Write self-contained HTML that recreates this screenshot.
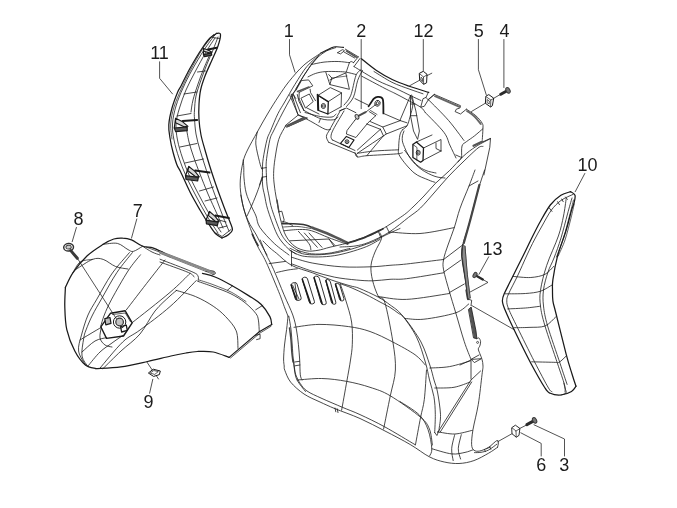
<!DOCTYPE html><html><head><meta charset="utf-8"><title>Parts diagram</title><style>html,body{margin:0;padding:0;background:#fff}svg{display:block;will-change:transform}text{font-family:"Liberation Sans",sans-serif;fill:#1c1c1c}</style></head><body>
<svg width="677" height="508" viewBox="0 0 677 508">
<rect width="677" height="508" fill="#fff"/>
<g fill="none" stroke="#1a1a1a" stroke-width="0.75" stroke-linecap="round" stroke-linejoin="round">
<path d="M289.5 39.5L289.5 54.8L295 72.2"/>
<path d="M361.2 39.5L361.2 108.7"/>
<path d="M423.3 39.5L423.3 70.5"/>
<path d="M478.4 39.5L478.4 69.7L486.2 94.6"/>
<path d="M503.9 39.5L503.9 87.5"/>
<path d="M159.6 61.8L159.6 78.3L172.5 93.9"/>
<path d="M584.8 173.5L575.2 191.7"/>
<path d="M488.7 256.8L479 274.3"/>
<path d="M136.8 219L131.5 238.1"/>
<path d="M76.4 227.5L72.2 241.7"/>
<path d="M149.6 393.2L152.8 379.3"/>
<path d="M541.2 456L541.2 443.4L520.8 432.8"/>
<path d="M564.5 456L564.5 439L534 424.8"/>
<path d="M471.7 305.5L514.5 329.9"/>
<path d="M512 433.7L497.7 441.7"/>
<path d="M519.9 428.4L527 424.8"/>
<path d="M365.6 112.2L376.3 104.2"/>
<path d="M427.3 75.5L431.8 73.2"/>
<path d="M420 80L409.6 85.8"/>
<path d="M493.5 98.4L500.8 94.2"/>
<path d="M485.7 103L471.5 111.5"/>
<path d="M77.5 258.5L118.2 321.6"/>
<path d="M156.7 376.3L158.5 379"/>
<path d="M147 362.2L152.3 370.1"/>
<path d="M482.8 279.5L488 282.4L470.2 292"/>
</g>
<g fill="none" stroke="#1a1a1a" stroke-width="0.8" stroke-linecap="round" stroke-linejoin="round">
<path d="M320.1 53.6C317.4 55.5 309.1 60.5 303.9 65.1C298.7 69.7 293.3 76.2 289.1 81.4C284.9 86.6 282.3 90.7 278.7 96.1C275.1 101.5 271.1 108 267.5 114C263.9 120 260.6 126 257.3 132C254 138 249.9 145 247.5 150C245.1 155 244.2 157 243 162C241.8 167 240.6 174.5 240.3 180C240 185.5 240.2 189.4 241 194.8C241.8 200.2 242.9 206.1 244.8 212.5C246.7 218.9 250 227.4 252.2 233.2C254.4 238.9 255.7 242.2 258 247C260.3 251.8 262.8 254.8 266.2 262.2C269.6 269.6 275.6 284.1 278.7 291.7C281.8 299.3 283.2 303.9 284.8 308C286.4 312.1 287.5 314.8 288 316.2"/>
<path d="M319.4 54.8C317.3 56.8 310.9 61.7 306.8 66.6C302.7 71.5 298.7 78.4 295 84.3C291.3 90.2 287.5 97.1 284.7 102C281.9 106.9 280.4 108.7 278 113.5C275.6 118.3 272.3 126.7 270.5 131C268.7 135.3 268.2 134.9 267 139.5C265.8 144.1 263.9 153.8 263.2 158.7C262.4 163.6 262.6 164.6 262.5 169C262.4 173.4 262.3 180.7 262.6 185C262.9 189.3 263.6 190.9 264.5 195C265.4 199.1 265.8 203.4 267.7 209.5C269.6 215.6 273.4 226.3 275.8 231.7C278.2 237.1 279.8 239.1 282 242C284.2 244.9 286.7 247.4 289 249.4C291.3 251.4 294.8 253.2 296 254"/>
<path d="M318 57C316.4 58.9 311.5 64.3 308.5 68.5C305.5 72.7 302.9 77.2 300 82C297.1 86.8 293.9 92.3 291 97.5C288.1 102.7 285.4 107.4 282.5 113C279.6 118.6 275.6 126.6 273.5 131C271.4 135.4 271 134.9 269.9 139.5C268.8 144.1 267.2 153.8 266.6 158.7C266 163.6 266.1 164.6 266.2 169C266.3 173.4 266.5 180.5 267 185C267.5 189.5 268.2 191.9 269 196C269.8 200.1 270.1 203.6 272 209.5C273.9 215.4 277.9 226.4 280.2 231.7C282.5 236.9 284 238.5 286 241C288 243.5 289.5 244.6 292 246.5C294.5 248.4 299.4 251.4 300.9 252.4"/>
<path d="M261.8 168.3L266.2 167.6"/>
<path d="M261.8 177.3L266.6 176.5"/>
<path d="M257.3 132C257.1 134 255.4 139.1 255.8 144C256.2 148.9 258.5 157.5 259.5 161.7C260.5 165.9 261.4 167.8 261.8 169"/>
<path d="M243.2 160C243.3 161.3 243.7 164.8 243.8 167.8C243.9 170.8 243.6 173.8 244 178C244.4 182.2 244.9 188.3 246.2 193C247.4 197.7 249.9 202.6 251.5 206.4C253.1 210.2 254.6 212.5 256 216C257.4 219.5 256.8 222.7 259.8 227.3C262.9 231.9 269.4 238.9 274.3 243.5C279.2 248.1 286.6 253.1 289 255"/>
<path d="M259.5 185L261.8 178"/>
<path d="M262.7 177C261.7 179.8 258.5 188.8 256.5 194C254.5 199.2 252.3 204.3 250.7 208C249.1 211.7 247.6 214.7 247 216"/>
<path d="M240.8 195C241.2 196.8 242.1 202.5 243 206C243.9 209.5 245 212.9 246.2 216C247.4 219.1 248.4 221.5 250 224.5C251.6 227.5 253.8 230.4 255.8 234C257.8 237.6 260.1 242.5 262 246C263.9 249.5 266.2 253.5 267 255"/>
<path d="M285.4 126.2C284.3 128.4 280.4 134.1 278.7 139.5C277 144.9 275.9 153 275 158.7C274.1 164.4 273.7 169.1 273.6 173.5C273.5 177.9 273.8 180.7 274.3 185C274.8 189.3 275.4 193.1 276.5 199.2C277.6 205.3 279.4 215.3 281 221.4C282.6 227.5 283.7 231.8 286 236C288.3 240.2 291.5 244 295 246.5C298.5 249 303 250.3 306.8 250.9C310.6 251.5 314.1 250.9 318 250.3C321.9 249.7 325 248.4 330 247.2C335 246 345 243.7 348 243"/>
<path d="M285.4 125.5L298 115.2L307.5 118.1L286.9 127Z"/>
<path d="M348 243C350.8 242 359.8 239 365 237C370.2 235 372.7 234.5 379 231C385.3 227.5 397 219.8 402.7 215.8C408.4 211.8 409.4 210.3 413 207C416.6 203.7 420.2 199.9 424 196C427.8 192.1 431.3 187.5 435.5 183.3C439.7 179.1 444.7 175.3 449.3 170.8C453.9 166.3 458.6 160.6 463 156.5C467.4 152.4 471.4 149.5 476 146.5C480.6 143.5 488.1 139.9 490.5 138.6"/>
<path d="M340 247C342.5 246.8 350.2 246.8 355 246C359.8 245.2 363 244.7 368.7 242.4C374.4 240.1 382.8 236.2 389.4 232C396 227.8 403.4 221.3 408.6 217.3C413.8 213.3 416.3 212.1 420.5 208C424.7 203.9 429.4 198.2 434 193C438.6 187.8 443.2 182.2 448 177C452.8 171.8 458 166.8 463 162C468 157.2 474.7 150.6 478 148C481.3 145.4 482.2 146.8 483 146.5"/>
<path d="M378.3 231.3L380.6 237.2"/>
<path d="M386.5 226.9L389.4 232.8"/>
<path d="M288 316.2C287.8 318.4 287.2 324.7 286.6 329.5C286 334.3 285 340.1 284.5 345C284 349.9 283.7 355.5 283.6 359C283.6 362.5 284 364.1 284.2 366C284.4 367.9 283.7 367.6 284.8 370.3C285.9 373 287.5 378.2 290.7 382.2C293.9 386.1 299.1 390.7 304 394C308.9 397.3 314.8 399.6 320 402C325.2 404.4 328.3 405.9 335 408.7C341.7 411.4 351.7 414.8 360 418.5C368.3 422.2 376.6 426.7 385 431C393.4 435.3 402.8 440.2 410.2 444.5C417.6 448.8 423.8 454 429.5 456.9C435.2 459.8 439.4 460.9 444.3 462C449.2 463.1 454.1 463.7 459 463.5C463.9 463.3 469 462.3 473.9 460.6C478.8 458.9 484.7 455.4 488.6 453.2C492.5 451 496 448.3 497.5 447.3"/>
<path d="M260.3 240C261.2 242.3 263.8 249.1 266 254C268.2 258.9 270.6 262.7 273.6 269.5C276.6 276.3 280.8 287.1 284 294.7C287.2 302.3 290.7 309.1 292.8 315C294.9 320.9 295.6 325.1 296.5 330C297.4 334.9 297.9 339.3 298.4 344.3C298.9 349.3 299.4 354.9 299.7 360C300 365.1 299.9 371.5 300.3 374.8C300.7 378.1 301.7 379.1 302 380"/>
<path d="M288.8 316.2C289.2 318.4 290.4 324.7 291 329.5C291.6 334.3 291.8 340.1 292.2 345C292.6 349.9 292.8 355.2 293.2 359C293.6 362.8 294.1 365.4 294.5 368C294.9 370.6 294.8 372.2 295.8 374.8C296.8 377.4 298.4 380.9 300.3 383.6C302.2 386.3 303.4 388.5 307 391C310.6 393.5 316.1 395.8 322 398.5C327.9 401.2 336.1 404.6 342.4 407.3C348.7 410 352.9 411.3 360 414.6C367.1 417.9 375.9 422 385 427C394.1 432 409.8 441.6 414.8 444.5"/>
<path d="M294.7 362L299.6 361.3"/>
<path d="M295.1 365.8L299.9 365"/>
<path d="M293.6 360C293.8 361.7 293.9 366.7 294.5 370C295.1 373.3 295.2 376.4 297 380C298.8 383.6 304.1 389.6 305.5 391.5"/>
<path d="M269.2 263.6L285.5 261.4"/>
<path d="M276.6 272.5C278.5 272.1 284.6 270.6 288 270C291.4 269.4 295.8 269 297.3 268.8"/>
<path d="M263 241C264.2 242.2 267.7 245.9 270 248C272.3 250.1 273 250.4 276.6 253.3C280.2 256.2 285.6 262.1 291.5 265.3C297.4 268.5 305.6 270.3 312.2 272.7C318.8 275.1 324.9 277.7 331.2 279.9C337.5 282.1 345.3 284.4 350 285.8C354.7 287.2 354.5 286.4 359.2 288.3C363.9 290.2 373.2 294.4 378.4 297.2C383.6 300 386.3 302.1 390.2 305C394.1 307.9 397.3 309.5 401.7 314.8C406.1 320.1 412.6 329.1 416.5 337C420.4 344.9 423.1 354.8 425.3 362C427.5 369.2 428.1 374.2 429.5 380C430.9 385.8 432.9 390.9 433.9 396.6C434.9 402.3 435.2 408.3 435.3 414.3C435.4 420.3 434.8 429.5 434.7 432.5"/>
<path d="M340.2 283.7C342.2 284.4 347.7 286.2 352 288C356.3 289.8 361.3 292.2 366 294.5C370.7 296.8 376 299.9 380 302C384 304.1 387 305.6 390 307.4C393 309.2 395.4 311.1 398 313C400.6 314.9 401.6 314.2 405.4 319C409.2 323.8 416.9 334.3 421 342C425.1 349.7 427.6 358.7 429.8 365C432 371.3 432.7 375.5 434 380C435.3 384.5 436.4 386.3 437.5 392C438.6 397.7 440.2 408.1 440.5 414.3C440.8 420.6 439.2 427 439 429.5"/>
<path d="M290 248.3C292.5 249.3 298.7 253.2 304.8 254.2C310.9 255.2 319.5 254.9 326.9 254.2C334.3 253.5 341.6 251.8 349 249.8C356.4 247.8 365.8 244.5 371.2 242.4C376.6 240.3 378.5 238.8 381.6 237.2C384.7 235.6 386.9 234.4 390 233C393.1 231.6 398.3 229.2 400 228.5"/>
<path d="M290 250.5C292.5 251.5 297.4 255.5 304.8 256.4C312.2 257.3 324.5 257.2 334.3 255.7C344.1 254.2 356.3 250.3 363.9 247.6C371.5 244.9 377.3 240.8 380 239.4"/>
<path d="M291.5 251L291.5 266"/>
<path d="M292.5 285L299 299"/>
<path d="M295 283.5L297 299.5"/>
<path d="M379.9 233C380.1 234 382.2 235.7 381.4 238.9C380.6 242.1 376.7 247.6 375 252C373.3 256.4 371.4 260.8 371 265.5C370.6 270.2 371.3 275 372.5 280.2C373.7 285.4 376.4 292.9 378.4 296.5C380.4 300.1 382.3 294.5 384.7 302C387.1 309.5 391 330.1 392.8 341.4C394.6 352.7 395.8 360.9 395.4 370C395 379.1 392.3 386 390.3 395.8C388.3 405.6 384.7 423.5 383.6 429"/>
<path d="M291.5 257.2C294.9 258.2 303.8 261.4 312.2 263C320.6 264.6 332 266.2 341.7 266.8C351.4 267.4 362.4 267.1 370.5 266.8C378.6 266.6 384 265.8 390 265.3C396 264.8 397.6 265 406.5 264C415.4 263 437.4 260.2 443.6 259.5"/>
<path d="M291.5 263.8C294.9 265 305.1 269 312.2 271.2C319.3 273.4 326.9 275.6 334.3 277.1C341.7 278.6 350.1 279.4 356.5 280C362.9 280.6 367.1 280.9 372.7 280.8C378.3 280.7 384.4 279.7 390 279.3C395.6 278.9 397.6 279.8 406.5 278.7C415.4 277.6 437.4 273.8 443.6 272.8"/>
<path d="M378.4 296.5C383.1 297 394.6 299.9 406.5 299.4C418.4 298.9 442.3 294.5 449.5 293.5"/>
<path d="M389.4 232C394.5 232.2 409.2 234.2 420 233.5C430.8 232.8 448.6 228.6 454.3 227.6"/>
<path d="M475 170C474 172.7 471.5 179.6 469 186C466.5 192.4 462.4 201.5 460 208.4C457.6 215.3 456.3 221.5 454.3 227.6C452.3 233.7 449.8 239.7 448 245C446.2 250.3 444.3 255.3 443.6 259.5C442.9 263.6 442.6 264.5 443.6 269.9C444.6 275.3 447.5 285 449.5 292C451.5 299 453 303.7 455.5 312C458 320.3 461.7 333.8 464.3 341.7C466.9 349.6 469.9 356.4 471 359.4"/>
<path d="M443.6 259.5L462 245.5"/>
<path d="M444 272L460.6 260.3"/>
<path d="M449.5 292.5L464.3 284"/>
<path d="M405.4 318.5C408.5 318.6 415.5 320.1 423.9 319.2C432.2 318.3 448 315.4 455.5 312.9C463 310.4 466.5 305.5 468.7 304"/>
<path d="M429.8 368C433.1 367.8 442.6 367.8 449.5 366.6C456.4 365.4 467.4 361.7 471 360.7"/>
<path d="M434.8 388C438 387.9 448.1 388.3 454 387.3C459.9 386.3 467.5 382.9 470.2 382"/>
<path d="M340.2 283.7C341.1 286.4 343.8 293.6 345.7 300C347.6 306.4 350.5 314.6 351.6 322C352.7 329.4 352.5 338 352.3 344.3C352.1 350.6 351.4 353.8 350.5 360C349.6 366.2 348.3 373 346.8 381.4C345.3 389.8 342.5 405.4 341.6 410.2"/>
<path d="M335 408L335.8 411.8"/>
<path d="M337.2 408.8L338 412.6"/>
<path d="M294 327.3C298.2 326.8 309.9 324.5 319 324.4C328.1 324.3 340.1 325.4 348.6 326.6C357.1 327.8 362.6 328.9 370 331.5C377.4 334.1 385.3 338.1 392.8 342C400.3 345.9 409.6 350.9 415 354.7C420.4 358.5 423.6 363.3 425.3 365"/>
<path d="M297.3 380C301.4 379.8 313.4 378.3 321.7 378.5C329.9 378.7 338.8 379.9 346.8 381.4C354.9 382.9 362.8 384.9 370 387.3C377.2 389.7 381.9 390.8 390.3 395.8C398.7 400.8 414.1 411.8 420.6 417.3C427.1 422.8 427.4 424.4 429.4 429C431.4 433.6 431.9 442.3 432.4 445"/>
<path d="M426.5 370C426.1 374.9 425.3 391.6 424.3 399.5C423.3 407.4 422.1 409.7 420.6 417.3C419.1 424.9 416.3 440.4 415.4 445"/>
<path d="M484.6 170C483.9 172.2 482 177.5 480.2 183.3C478.4 189.1 476 197.6 474 205C472 212.4 469.9 221.4 468 228C466.1 234.6 463.8 240 462.8 244.8C461.8 249.6 461.5 250.5 462 256.6C462.5 262.8 464.8 274.6 465.8 281.7C466.8 288.8 467.6 296.4 468 299.4"/>
<path d="M465 246.2C465.4 250.9 466.4 265.7 467.3 274.3C468.2 282.9 469.7 294.1 470.2 298"/>
<path d="M469 186L478 181"/>
<path d="M465.8 290L467.3 298.9L471.7 300.3L471 305.5"/>
<path d="M476.9 338.7C477.2 338.6 478.4 337.5 479 338C479.6 338.5 480.5 340.4 480.6 341.7C480.7 343 480.2 344.8 479.8 346C479.4 347.2 478.3 347.8 478.3 349C478.3 350.2 479.2 351.8 479.8 353.5C480.4 355.2 481.5 357.3 482 359.4C482.5 361.5 483 363.4 483 366C483 368.6 482.8 368.4 482 374.8C481.2 381.2 479.8 395.2 478.3 404.3C476.8 413.4 474.1 422.8 473 429.5C471.9 436.2 471.5 440.9 471.6 444.3C471.8 447.8 472.5 449.1 473.9 450.2C475.3 451.3 477.4 451.5 479.8 451C482.2 450.5 485.8 449 488.6 447.3C491.4 445.6 495.2 441.3 496.8 440.6C498.4 439.9 498.3 441.9 498.4 443C498.5 444.1 497.6 446.6 497.5 447.3"/>
<path d="M471 359.4L479 355"/>
<path d="M460 365L471 360"/>
<path d="M471 361.5L471 379.2"/>
<path d="M480.6 371L471 380L437.7 432.4"/>
<path d="M471.7 382L440 432.4"/>
<path d="M437.7 431.8C440.5 432.2 448.9 434.2 454.7 434C460.5 433.8 469.4 430.9 472.4 430.3"/>
<path d="M431.8 448.7C435.1 449.6 446.2 453.3 451.7 453.9C457.2 454.5 461.4 453.1 465 452.4C468.6 451.7 471.7 450.2 473 449.8"/>
<path d="M454.7 434.7C454.2 437 451.9 444.4 451.7 448.7C451.4 453 452.9 458.6 453.2 460.6"/>
<path d="M461.3 434.7C460.8 437 458.4 444.6 458.3 448.7C458.2 452.8 460.2 457.3 460.6 459"/>
<path d="M400 401.5C403.2 403.7 414.5 410.1 419.2 414.8C423.9 419.5 425.9 423.9 428 429.5C430.1 435.1 431.6 444.3 431.8 448.7C432.1 453.1 429.9 454.8 429.5 456"/>
<path d="M434.7 432.5L436.9 435.5L439 430.5"/>
<path d="M311.6 63.9C312.7 62.8 315.5 59.1 318 57C320.5 54.9 323.4 52.6 326.4 51C329.4 49.4 334.2 48.2 335.8 47.6"/>
<path d="M337.6 52.7L342.3 49.7L344 50.3"/>
<path d="M337.6 52.7L340.5 53.9L344.2 51"/>
<path d="M345.3 49.1L358.3 56.8"/>
<path d="M344 52L354.7 58"/>
<path d="M358.3 56.8L353.5 62.7"/>
<path d="M360 58.5L354 66.6"/>
<path d="M311.6 64.5C313.7 64.1 319.6 62.6 324 62.1C328.4 61.6 334 61.4 338.2 61.5C342.4 61.6 347.5 62.5 349.4 62.7"/>
<path d="M349.4 62.7C349.7 62.5 350.5 61.5 351.2 61.5C351.9 61.5 353.1 62.5 353.5 62.7"/>
<path d="M349.4 62.7C349.1 63.6 348.1 66.5 347.6 68C347.1 69.5 346.6 71 346.4 71.6"/>
<path d="M308 76.9C309.3 76.3 312.8 74.3 315.7 73.4C318.6 72.5 321.4 71.9 325.2 71.6C328.9 71.3 334.7 71.5 338.2 71.6C341.7 71.7 343.4 71.7 346.4 72.2C349.3 72.7 354.3 74.1 355.9 74.5"/>
<path d="M311.6 63.9C311.1 64.7 310.3 66 308.6 68.6C306.9 71.2 303.6 75.9 301.5 79.3C299.4 82.7 296.9 87.4 296 89"/>
<path d="M325.8 72.2L329.9 84.6L349.4 89.3L345.9 73.4"/>
<path d="M328.7 74.5L331.8 78"/>
<path d="M329.9 80L346 72.8"/>
<path d="M331.8 78L329.9 84.6"/>
<path d="M296.2 89.9L301.5 80.5L308.6 79.9L312.8 85.8L299.2 92.3"/>
<path d="M292 94.6L293.2 100.5"/>
<path d="M296.2 89.9L292 94.6"/>
<path d="M299.2 92.3L299 98.5"/>
<path d="M318.1 95.3L330.3 87.6L341.7 92.9L328.3 101.6Z"/>
<path d="M327.9 114L341.1 106.8"/>
<path d="M341.5 93L341.1 106.8"/>
<path d="M297.3 94.5L299 101.6L303.9 110.5"/>
<path d="M310.1 89.2L310.6 92.7L315.5 100.7"/>
<path d="M301.3 98L309.3 94L313.2 101.6L305.7 107.8Z"/>
<path d="M291.1 94L293.3 99.8L297.7 114"/>
<path d="M293.2 94.2L295.8 98.5"/>
<path d="M306.6 107.8L319 114"/>
<path d="M289.7 95L298 114.5"/>
<path d="M293.5 95L300.4 112.7"/>
<path d="M299 98.5L303.9 110.4"/>
<path d="M298 114.5C300.3 115.8 307.5 119.5 312 122C316.5 124.5 322.1 128.1 325.2 129.3C328.3 130.5 329.6 129.3 330.5 129.3"/>
<path d="M303.9 110.4C306.7 111.8 315.6 117 320.5 118.6C325.4 120.2 330.5 120.1 333.4 119.8C336.3 119.5 337.2 117.5 338 117"/>
<path d="M305 112.5C307.6 113.2 316 115.8 320.5 116.5C325 117.2 329.4 117.4 332 117C334.6 116.6 335.3 114.5 336 114"/>
<path d="M320.5 118.6L319 122.5"/>
<path d="M360.6 69.8C359.8 70.8 357.6 71.4 355.9 75.7C354.2 80 352.6 90.9 350.6 95.8C348.6 100.7 345.1 103.5 344 105"/>
<path d="M362.5 70.5C361.7 72.2 359.2 76 357.7 80.4C356.2 84.8 355.4 92.7 353.5 97C351.6 101.3 347.7 104.9 346.5 106.5"/>
<path d="M374 71.5C377 73.3 386 79.3 392 82.3C398 85.3 404.8 87.4 410 89.3C415.2 91.2 420.8 93 423 93.8"/>
<path d="M428.2 92.6L426 97.4L423 98.7L420.7 107.2L424.3 106.3L428.2 100L434.2 94.4"/>
<path d="M354 66.6C357.9 68.9 370.7 76.9 377.5 80.5C384.3 84.1 389.5 85.6 395 88.1C400.5 90.6 406.2 93.5 410.5 95.6C414.8 97.7 419.2 99.7 421 100.5"/>
<path d="M355 98.6L368 105"/>
<path d="M361.7 76.2C365.6 78.2 379.4 85.6 385 88.5C390.6 91.4 391.2 91.5 395 93.4C398.8 95.3 403.2 97.7 407.5 100C411.8 102.3 417.8 105.2 420.7 107.2C423.6 109.2 424.3 111.4 425 112.2"/>
<path d="M383.4 113.4L399.9 120.5L407 122.8"/>
<path d="M369.2 111.6L375.7 115.7"/>
<path d="M410.5 95.6L399.9 120.5"/>
<path d="M410.5 95.6C410.9 97 413 100.4 412.9 103.9C412.8 107.5 411 113.2 410 116.9C409 120.6 408.3 123.6 407 125.8C405.7 128 403.1 129.2 402.3 129.9"/>
<path d="M411.7 95L415.9 111L419.4 131L417.6 139.4L413.5 131L410.5 115.7L410.5 95.6"/>
<path d="M410.8 104L415 104"/>
<path d="M410.5 115.7L416.8 115.7"/>
<path d="M339.2 111L344.4 108.9"/>
<path d="M340.5 110.4C338.7 113.6 332.2 125 329.9 129.3C327.5 133.6 326.6 134.2 326.4 136.4C326.2 138.6 328.3 141.3 328.7 142.3"/>
<path d="M328.7 142.3L355.9 153.5L357.4 156.9"/>
<path d="M344 111C342.2 114 335.6 125.1 333.4 129.3C331.2 133.5 331.2 134.6 331 136.4C330.8 138.2 332.1 139.3 332.3 139.9"/>
<path d="M332.3 139.9L355 150.5"/>
<path d="M340.5 110.4L346.4 108L355.9 112.7"/>
<path d="M370.4 121.6L382.8 127L400.5 120.5"/>
<path d="M366.8 124L380.4 129.3"/>
<path d="M382.8 127L386.3 134L407 125.8"/>
<path d="M380.4 129.3L383.4 135.8"/>
<path d="M386.3 134L372.7 143L357.4 153.3"/>
<path d="M380.4 129.3L357.4 150"/>
<path d="M383.4 135.8L366.8 155.7"/>
<path d="M354.7 120.4L347 130.5L346.4 134L355.9 137.5L368 122.8L375.7 115.7"/>
<path d="M354.7 120.4L357 117.5"/>
<path d="M355 152.7C355.4 153.4 355.4 156.4 357.4 156.9C359.4 157.4 360.3 156.2 366.8 155.7C373.3 155.2 390.5 154.4 396.4 153.9C402.3 153.4 401.3 152.9 402.3 152.7"/>
<path d="M357.4 153.3C360.3 152.9 368.1 151.6 375 151C381.9 150.4 394.8 150 398.7 149.8"/>
<path d="M402.3 129.9C401.9 130.8 400.5 132.2 399.9 135C399.3 137.8 398.7 143.2 398.7 146.8C398.7 150.4 397.3 152 399.9 156.3C402.4 160.6 409.3 168.9 414 172.8C418.7 176.7 424.8 178.3 428.3 179.9C431.8 181.5 433.9 181.9 435 182.3"/>
<path d="M404 131C403.7 132 402.4 134.8 402.3 137C402.2 139.2 402 140.9 403.4 144.5C404.8 148.1 407.5 154.5 410.5 158.6C413.5 162.7 417.1 166.3 421.2 169.3C425.3 172.3 431 175 435 176.4C439 177.8 443.3 177.7 445 178"/>
<path d="M404.6 150.4C406.6 152.8 412.8 161.2 416.4 164.5C419.9 167.8 422.6 169.1 425.9 170.5C429.2 171.9 434.3 172.6 436 173"/>
<path d="M416.4 142L432 135"/>
<path d="M423.5 148L441 139.5L441 151"/>
<path d="M423 160.4L441 151"/>
<path d="M441 151L436 148.5L436 143"/>
<path d="M434.5 94.5L460.5 105.7L459.9 108L456.3 109.2L455.1 111.6L460.5 114L466.4 109.2"/>
<path d="M466.4 109.2C468 110.3 473.1 113.3 475.8 115.7C478.5 118.1 481.1 121.2 482.3 123.4C483.5 125.6 482.9 126 482.9 128.7C482.9 131.4 482.4 137.6 482.3 139.4"/>
<path d="M434.5 94.5L428.5 99.2"/>
<path d="M428.5 99.8C431.9 103.2 442.7 113.7 448.6 120.5C454.5 127.3 461.4 137.2 464 140.5"/>
<path d="M425 112.2C428.1 115.6 439.8 126.8 443.9 132.3C448 137.8 447.8 140.7 449.8 145C451.8 149.3 455 155.8 456 158"/>
<path d="M482.9 128.7C481.5 129.9 477.4 133.6 474.6 135.8C471.9 138 468.5 140 466.4 141.7C464.3 143.4 462.8 143.3 462 146C461.2 148.7 461.8 155.7 461.7 157.6"/>
<path d="M482.9 141.8L490.5 138.4L489.8 147.3L483.9 175"/>
<path d="M455.8 155L461.7 157.6L458 162"/>
<path d="M214 36C212.3 38.3 207.7 44.3 204 50C200.3 55.7 195.5 63.7 192 70C188.5 76.3 185.7 82 183 88C180.3 94 177.8 100 176 106C174.2 112 172.8 118.3 172.5 124C172.2 129.7 172.9 134.3 174 140C175.1 145.7 177 152 179 158C181 164 183.2 169.7 186 176C188.8 182.3 192.5 189.3 196 196C199.5 202.7 203.3 209.8 207 216C210.7 222.2 216.2 230.2 218 233"/>
<path d="M215 38C213.5 40.3 209.3 46.3 206 52C202.7 57.7 198.3 65.7 195 72C191.7 78.3 188.6 84 186 90C183.4 96 181.2 102.3 179.5 108C177.8 113.7 176.3 118.7 176 124C175.7 129.3 176.4 134.3 177.5 140C178.6 145.7 180.5 152 182.5 158C184.5 164 186.7 169.7 189.5 176C192.3 182.3 196 189.3 199.5 196C203 202.7 206.9 210 210.5 216C214.1 222 219.2 229.3 221 232"/>
<path d="M218 37C217.2 39.2 214.8 45.5 213 50C211.2 54.5 209 59 207 64C205 69 202.8 74.7 201 80C199.2 85.3 197.1 91 196 96C194.9 101 194.8 106.2 194.5 110C194.2 113.8 194.2 115 194.5 119C194.8 123 195.1 128.8 196 134C196.9 139.2 198.5 144.7 200 150C201.5 155.3 203.2 160.3 205 166C206.8 171.7 208.7 177.3 211 184C213.3 190.7 216.5 199.3 219 206C221.5 212.7 224.3 219.8 226 224C227.7 228.2 228.5 229.8 229 231"/>
<path d="M211 52C209.8 54.7 206.2 62.7 204 68C201.8 73.3 199.8 78.7 198 84C196.2 89.3 194.2 95.3 193 100C191.8 104.7 191.3 110 191 112"/>
<path d="M186 126C186.5 128.7 187.7 136.7 189 142C190.3 147.3 192.2 152.7 194 158C195.8 163.3 197.7 168 200 174C202.3 180 205.2 187.3 208 194C210.8 200.7 214.5 208.3 217 214C219.5 219.7 222 225.7 223 228"/>
<path d="M197.5 72L205.5 71"/>
<path d="M184 94L197 92"/>
<path d="M177 116L191 113.5"/>
<path d="M180 147L197 143.5"/>
<path d="M185 163L203.5 159"/>
<path d="M199.5 191L213.5 187"/>
<path d="M205 201L217 198"/>
<path d="M212 218L226 222"/>
<path d="M216.8 33.3L214 36"/>
<path d="M212.5 37.5L219.5 38.5"/>
<path d="M216 233L222 236.5L231 229.5"/>
<path d="M219 228L227 226"/>
<path d="M573.3 194.3C571.2 195.3 564.6 197.8 560.9 200.5C557.2 203.2 554.4 206.1 551.2 210.3C548.1 214.6 544.8 221.1 542 226C539.2 230.9 536.8 235.2 534.3 240C531.8 244.8 529.8 249 527 255C524.2 261 520.6 269.5 517.5 276C514.4 282.5 510.4 289.7 508.6 293.8C506.8 297.9 506.8 298.4 506.8 300.9C506.8 303.4 506.8 304.4 508.6 308.9C510.4 313.4 513.2 318.9 517.5 327.7C521.8 336.4 529.1 351.3 534.3 361.4C539.5 371.4 545.5 383 548.5 388C551.5 393 551.4 390.9 552 391.5"/>
<path d="M566.2 198.5C565.8 201.4 564.8 209.8 563.5 216C562.2 222.2 561.2 227.8 558.4 236C555.6 244.2 549.7 256.3 546.7 265.4C543.7 274.4 541.5 283.5 540.5 290.3C539.5 297.1 539.8 300.2 540.5 306.2C541.2 312.1 542.2 316.5 545 326C547.8 335.5 554.2 353.5 557.4 363.2C560.6 372.9 563.1 379.6 564.4 384.4C565.7 389.2 564.9 390.7 565 392"/>
<path d="M572 198C571.2 200.7 569.3 207.3 567.5 214C565.7 220.7 563.2 230.7 561 238C558.8 245.3 556.2 252.3 554 258C551.8 263.7 549.8 266.7 548 272C546.2 277.3 544.2 284.3 543.5 290C542.8 295.7 542.8 300 543.5 306C544.2 312 544.9 316.5 547.6 326C550.4 335.5 556.8 353.5 560 363.2C563.2 372.9 565.9 380.9 567.1 384.4"/>
<path d="M557.6 201.7L559.5 204.7"/>
<path d="M561.7 199L563.2 201.7"/>
<path d="M549 207.7L552 211.4"/>
<path d="M513 276.4C516 276.6 525.5 277.9 530.8 277.5C536.1 277.1 541.2 276.2 545 274.3C548.8 272.4 552.3 267.6 553.8 266.3"/>
<path d="M505 293.8C508.4 293.8 519.5 293.9 525.4 293.5C531.3 293.1 536.1 292.6 540.5 291.2C544.9 289.8 550.1 286 552 285"/>
<path d="M507.7 308.9C510.6 308.8 519.9 308.4 525.4 308C530.9 307.6 538 306.5 540.5 306.2"/>
<path d="M514 327.7C516.5 327.6 523.8 327.7 529 327.4C534.2 327.1 540.6 327.7 545 326C549.4 324.3 553.8 318.5 555.6 317"/>
<path d="M531.7 361.8C535.4 361.9 549.2 362.2 553.8 362.3C558.4 362.4 557 363.4 559.1 362.3C561.2 361.2 565 357.1 566.2 356"/>
<path d="M560.9 395C561.8 394.7 565.3 394.2 566 393C566.7 391.8 565.4 389.7 565 388C564.6 386.3 564 383.8 563.8 383"/>
<path d="M76.6 269C79.2 267.4 88.1 261 92.5 259.4C96.9 257.8 99.4 258.2 103.2 259.4C107 260.6 111.5 264.9 115.6 266.5C119.7 268.1 125.9 268.6 128 269"/>
<path d="M103.2 244.3C105.6 244.2 113.3 242.5 117.4 243.4C121.5 244.3 125.3 248.3 128 249.6C130.7 250.9 130.9 251.9 133.3 251.4C135.7 250.9 140.7 247.3 142.2 246.5"/>
<path d="M129.4 252.6C126.5 256.2 117.1 266.2 111.7 274C106.3 281.8 100.9 292.3 96.9 299.1C93 305.9 90.6 309 88 315C85.4 321 83.1 329 81.5 335C79.9 341 77.9 346 78.6 351C79.2 356 84.3 362.7 85.4 365"/>
<path d="M132.4 252.6C129.8 255.9 122.1 264.8 116.9 272.5C111.7 280.2 105.5 292 101.4 299.1C97.3 306.2 95.1 309.9 92.5 315C89.9 320.1 87.5 326.1 86 330C84.5 333.9 84.4 334.2 83.7 338.5C83 342.8 81.3 351.3 82 356C82.7 360.7 87 364.8 88 366.5"/>
<path d="M140.5 254.8C138.4 257.5 132.8 263.6 128 271C123.2 278.4 115.7 291.8 111.7 299.1C107.8 306.4 106.1 310.5 104.3 315C102.5 319.5 101.4 324.2 100.8 326"/>
<path d="M165 260C162.4 263.3 155.8 271.7 149.3 280C142.8 288.3 130.1 305 126.2 310"/>
<path d="M190 273.4C186.7 276.6 179.6 284.2 170 292.4C160.4 300.6 138.7 317.5 132.4 322.5"/>
<path d="M196.3 280.5C191.9 284.9 179.4 298.4 170 306.6C160.6 314.9 147.9 324.1 140 330C132.1 335.9 129.4 335.6 122.7 342C116 348.4 103.4 364.2 99.6 368.6"/>
<path d="M176.8 290.3C175.7 291.2 173.6 292.6 170 296C166.4 299.4 160 304.7 155 311C150 317.3 145.7 327.3 140 334C134.3 340.7 127.2 345.2 121 351C114.8 356.8 106 365.7 103 368.6"/>
<path d="M80 340C81.7 339 86.5 336.1 90 334C93.5 331.9 99.2 328.6 101 327.5"/>
<path d="M82 352C84.2 350.2 90.9 343.4 95 341C99.1 338.6 104.8 338.2 106.7 337.6"/>
<path d="M88 366C90 363.7 96 355.8 100 352C104 348.2 108.2 345.8 112 343C115.8 340.2 120.9 336.8 122.7 335.5"/>
<path d="M101.4 327C101.2 328.8 99.4 335 100 338C100.6 341 103 343.5 105 345C107 346.5 110.8 346.7 112 347"/>
<path d="M158 250.5L160 252.2"/>
<path d="M206 271.5C207.2 271.4 211.4 270.7 213 271C214.6 271.3 215.7 272.8 215.5 273.5C215.3 274.2 212.6 274.8 212 275"/>
<path d="M160 259.2C165.3 261.3 185.6 268.9 191.9 271.7C198.2 274.5 197 274.4 198 276C199 277.6 198 280.5 198 281.4"/>
<path d="M160 262C164.7 263.8 182.7 270 188.4 272.5C194.1 275 193.1 276.2 194 277"/>
<path d="M142.2 246C143.8 247 149 250.5 152 252C155 253.5 158.7 254.5 160 255"/>
<path d="M198 281.4C200.5 282.3 207.5 284.6 213 286.7C218.5 288.8 225.6 291.1 230.9 293.8C236.2 296.5 240.9 299.4 245 302.7C249.1 305.9 253.5 310.4 255.7 313.3C257.9 316.2 257.8 317 258.4 320.1C259 323.2 259.1 329.8 259.3 331.7"/>
<path d="M227.3 290.3L232.6 285.8"/>
<path d="M255.7 309.8L262.8 305.3"/>
<path d="M176 290.3C179.2 291.3 189.2 293.9 195.4 296.5C201.6 299.1 208.2 302.8 213.2 306.2C218.2 309.6 221.8 312.5 225.6 316.6C229.4 320.7 234.1 325.5 236.2 330.8C238.3 336.1 237.7 345.6 238 348.5"/>
<path d="M255.7 335.2L260.1 334.3L260.1 338.7L256.6 339.6"/>
<path d="M284.2 230.7C286.8 230.5 295 229.5 299.5 229.5C304 229.5 306.5 229.3 311.4 230.7C316.3 232.1 322.9 235.5 329 237.8C335.1 240.1 344.8 243.4 348 244.5"/>
<path d="M290 240.8L329 239L335 245.5"/>
<path d="M298.4 231.3C300.2 233.4 306.9 240.6 309 243.7C311.1 246.8 310.5 248.6 310.8 249.6"/>
<path d="M304.3 233L317.3 247.3"/>
<path d="M309 233L322 247.3"/>
<path d="M329 239L333.8 246"/>
<path d="M278.9 211.8L281.8 211.2L284.2 220L282.4 223.6"/>
<path d="M281.8 221.3C282.6 221.5 284.7 221.8 286.5 222.5C288.3 223.2 291.4 224.9 292.4 225.4"/>
<path d="M297.2 250.2C299.6 250.8 306.1 253.3 311.4 253.8C316.7 254.3 322.6 254.1 329 253.2C335.4 252.3 346.5 249.2 350 248.4"/>
<path d="M474.5 452.6C475.6 452.6 478.6 452.7 481 452.3C483.4 451.9 486 451.4 488.6 450C491.2 448.6 495.4 445.2 496.8 444.2"/>
<path d="M484.5 449.5L485.3 451.6"/>
<path d="M489.8 447.3L490.8 449.3"/>
<path d="M471.7 359.4L481.3 358.7L474.7 362.4Z"/>
</g>
<g fill="none" stroke="#444" stroke-width="1.6" stroke-linecap="round" stroke-linejoin="round">
<path d="M287 125.8L304 117.5"/>
</g>
<g fill="none" stroke="#444" stroke-width="1.5" stroke-linecap="round" stroke-linejoin="round">
<path d="M289.5 328C289.8 330 290.6 336.1 291 340C291.4 343.9 291.5 348 291.8 351.7C292.1 355.4 292.8 360.3 293 362"/>
</g>
<g fill="none" stroke="#1a1a1a" stroke-width="0.9" stroke-linecap="round" stroke-linejoin="round">
<path d="M291.2 285.6Q290.6 283.5 292.7 283L294.4 282.6Q296.5 282.1 297.1 284.2L301.1 297.7Q301.7 299.8 299.5 300.2L298 300.4Q295.8 300.8 295.2 298.7Z"/>
<path d="M302.3 279.8Q301.7 277.7 303.9 277.4L304.7 277.2Q306.9 276.9 307.5 279L314.4 301.4Q315 303.5 312.8 303.8L312 304Q309.8 304.3 309.2 302.2Z"/>
<path d="M314.1 278.3Q313.5 276.2 315.7 276.2L316.5 276.2Q318.7 276.2 319.3 278.3L326.2 302.2Q326.8 304.3 324.6 304.6L323.8 304.7Q321.6 305 321 302.9Z"/>
<path d="M325.9 281.2Q325.3 279.1 327.5 279.5L327.6 279.5Q329.8 279.9 330.4 282L335.8 302.2Q336.4 304.3 334.2 304.3L334.2 304.3Q332 304.3 331.4 302.2Z"/>
<path d="M335.5 284.9Q334.9 282.8 337.1 283.2L337.2 283.2Q339.4 283.6 340 285.7L343.9 298.5Q344.5 300.6 342.3 300.9L342.3 301Q340.1 301.3 339.5 299.2Z"/>
<path d="M512 427.5L515.4 425.2L519.9 428.4L519 435.4L516.3 437.2L512.3 434Z"/>
</g>
<g fill="none" stroke="#1a1a1a" stroke-width="1.5" stroke-linecap="round" stroke-linejoin="round">
<path d="M296.3 299.3L291.2 285"/>
<path d="M310.3 302.8L302.3 279.2"/>
<path d="M322.1 303.5L314.1 277.7"/>
<path d="M332.5 302.8L325.9 280.6"/>
<path d="M340.6 299.8L335.5 284.3"/>
</g>
<g fill="none" stroke="#333" stroke-width="1.5" stroke-linecap="round" stroke-linejoin="round">
<path d="M462.8 244.8C462.7 246.8 461.5 250.5 462 256.6C462.5 262.8 464.8 274.6 465.8 281.7C466.8 288.8 467.6 296.4 468 299.4"/>
</g>
<g fill="none" stroke="#444" stroke-width="2.2" stroke-linecap="round" stroke-linejoin="round">
<path d="M479.4 184.8C477.9 190.5 473.2 209 470.6 218.7C468 228.4 464.9 238.9 463.8 243"/>
</g>
<g fill="#555" stroke="#1a1a1a" stroke-width="0.8" stroke-linecap="round" stroke-linejoin="round">
<path d="M468.7 309.2L471.2 307L476 331L476.9 338.7L473.9 338Z"/>
</g>
<g fill="none" stroke="#1a1a1a" stroke-width="0.7" stroke-linecap="round" stroke-linejoin="round">
<path d="M512.3 428L516 431L516.2 437"/>
<path d="M516 431L519.6 428.8"/>
<path d="M426 97.4L428.2 100"/>
<path d="M370.5 110.5L377 114.5"/>
<path d="M412.9 144.5L417 147.5L416.8 160"/>
<path d="M420 74L423.5 77L423.6 84"/>
<path d="M423.5 77L426.8 75"/>
<path d="M421.3 77.5L422.5 78.5L422.5 81.5L421.3 80.5Z"/>
<path d="M486.5 97L490.8 100L490.6 106.6"/>
<path d="M490.8 100L493.4 98.6"/>
<path d="M487.5 99.8L489.3 101L489.2 104L487.4 102.8Z"/>
<path d="M213.5 34.5C211.7 36.9 206.4 42.9 202.5 49C198.6 55.1 193.5 64.4 190 71C186.5 77.6 184.2 82.5 181.5 88.5C178.8 94.5 175.8 101.1 174 107C172.2 112.9 171 118.7 170.7 124C170.4 129.3 171.8 136.5 172 139"/>
<path d="M573.5 200C572.8 202.7 571.2 209.7 569.5 216C567.8 222.3 565.7 231.2 563.5 238C561.3 244.8 557.7 253.8 556.5 257"/>
<path d="M574.2 204C573.7 206.3 572.5 212 571 218C569.5 224 567.1 233.7 565 240C562.9 246.3 559.3 253.3 558.2 256"/>
<path d="M565.5 197L567.5 199.5"/>
<path d="M230.5 358L259.8 333.2L271 326.3"/>
<path d="M73 272.7C74.2 270.9 76.8 264.2 80 262C83.2 259.8 90.4 259.8 92.5 259.4"/>
<path d="M112.5 314.5L125.3 313L130.5 321.8"/>
<path d="M146 247L160 252.2"/>
<path d="M199 280C201.5 280.8 208.6 282.9 214 285C219.4 287.1 226.2 289.6 231.5 292.3C236.8 295.1 243.6 300 246 301.5"/>
<path d="M150.5 372.8L153.8 370.5L158.3 371.6L155 374.2Z"/>
<path d="M283.5 227C285.9 226.9 293.4 226.2 298 226.5C302.6 226.8 308.8 228.2 311 228.5"/>
<path d="M486 449L490.5 447"/>
</g>
<g fill="none" stroke="#2a2a2a" stroke-width="3.0" stroke-linecap="round" stroke-linejoin="round">
<path d="M526.9 424.6L534.6 420.4"/>
<path d="M500.8 94.2L508 90.3"/>
</g>
<g fill="none" stroke="#1a1a1a" stroke-width="1.1" stroke-linecap="round" stroke-linejoin="round">
<path d="M320.5 53.3C321.5 52.8 324.6 51.2 326.4 50.3C328.1 49.4 329.4 48.6 331 48C332.6 47.4 333.7 46.9 335.8 46.8C337.9 46.7 342.2 47.3 343.5 47.4"/>
<path d="M340.5 143.4L346.4 136.4L354.1 139.9L348.8 147.6Z"/>
</g>
<g fill="none" stroke="#555" stroke-width="1.6" stroke-linecap="round" stroke-linejoin="round">
<path d="M346.5 51L356.5 57.2"/>
<path d="M297.5 91.5L309 87"/>
</g>
<g fill="none" stroke="#1a1a1a" stroke-width="0.6" stroke-linecap="round" stroke-linejoin="round">
<path d="M331.8 78L347 76"/>
<path d="M160.3 251.2L214.5 272.2"/>
<path d="M159.7 253.2L213 274.2"/>
</g>
<g fill="none" stroke="#1a1a1a" stroke-width="1.3" stroke-linecap="round" stroke-linejoin="round">
<path d="M318.1 95.3L328.3 101.6L327.9 114L318.6 110.5Z"/>
<path d="M412.9 144.5L416.4 142L423.5 148L423 160.4L420.6 162.2L412.9 157.5Z"/>
<path d="M120.6 326.6L126.3 325.2L127.3 330.4L121.6 332Z"/>
</g>
<g fill="none" stroke="#1a1a1a" stroke-width="1.6" stroke-linecap="round" stroke-linejoin="round">
<path d="M317.5 94.5L318 110.3"/>
</g>
<g fill="none" stroke="#1a1a1a" stroke-width="1.25" stroke-linecap="round" stroke-linejoin="round">
<path d="M361.5 58.8C364 60.8 371.3 67 376.5 70.5C381.7 74 387.1 77.1 392.7 79.8C398.3 82.5 404 84.4 410 86.5C416 88.6 425.7 91.4 428.8 92.4"/>
<path d="M216.8 33.3C215.7 34.1 212.3 35.7 210 38C207.7 40.3 205.3 43.7 203 47C200.7 50.3 198.5 53.8 196 58C193.5 62.2 190.5 67.3 188 72C185.5 76.7 182.7 82.7 181 86C179.3 89.3 179.2 88.3 177.7 92C176.2 95.7 173.5 102.5 172 108C170.5 113.5 169.1 119.7 168.8 124.7C168.5 129.7 169.3 133.4 170 138C170.7 142.6 171.8 147.5 173 152C174.2 156.5 175.7 161.7 177 165C178.3 168.3 178.5 167.5 180.7 172C182.9 176.5 186.8 185.7 190 192C193.2 198.3 196.7 204.3 200 210C203.3 215.7 207.3 222 210 226C212.7 230 214 232 216 234C218 236 221 237.3 222 238"/>
<path d="M216.8 33.3C217.4 33.5 220.3 32.4 220.5 34.5C220.7 36.6 219.4 41.8 218 46C216.6 50.2 214.2 55 212 60C209.8 65 206.9 71 205 76C203.1 81 201.6 85.3 200.6 90C199.6 94.7 199.3 99.1 199 104C198.7 108.9 198.7 114.3 199 119.5C199.3 124.7 200 129.9 201 135C202 140.1 203.6 145 205 150C206.4 155 207.6 159.2 209.4 165C211.2 170.8 213.6 178 216 185C218.4 192 221.7 200.8 224 207C226.3 213.2 228.6 218.2 230 222C231.4 225.8 232.7 227.8 232.4 230C232.1 232.2 229.7 233.7 228 235C226.3 236.3 223 237.5 222 238"/>
<path d="M203.5 48.5L203.5 54.6"/>
<path d="M175.6 118.3L174.3 128"/>
<path d="M188.8 166.5L185.5 175.7"/>
<path d="M209.5 211.5L206.1 220.1"/>
<path d="M570.6 191.7C569 192.3 564.3 193 560.9 195.2C557.5 197.4 553.8 200.4 550.3 205C546.8 209.6 542.9 216.9 539.6 222.7C536.4 228.5 533.6 234.4 530.8 240C528 245.6 526 250 523 256C520 262 516.1 269.7 513 276C509.9 282.3 506 289.7 504.2 293.8C502.4 297.9 502.3 298.2 502.4 300.9C502.5 303.6 503.1 305 505 309.8C506.9 314.6 509.7 320.6 514 329.5C518.3 338.4 525.6 353.4 530.8 363.2C536 372.9 541.8 383 545 388C548.2 393 547.6 392.1 550.3 393.3C552.9 394.5 557.4 395.3 560.9 395C564.4 394.7 569 393 571.5 391.5C574 390 575.2 387.1 576 386.2"/>
<path d="M570.6 191.7C571.3 192.3 574.4 193.3 575 195.2C575.6 197.1 574.6 200.5 574 203C573.4 205.5 572.8 205.8 571.5 210.3C570.2 214.8 568.6 222.3 566.2 230C563.9 237.7 559.6 248.3 557.4 256.6C555.2 264.9 553.7 274 552.9 279.6C552.1 285.2 552.5 286.4 552.5 290C552.5 293.6 552.4 297.2 552.9 300.9C553.4 304.6 553.4 303.1 555.6 312C557.8 320.9 563.5 344 566.2 354.3C568.9 364.6 570.4 368.7 572 374C573.6 379.3 575.3 384.2 576 386.2"/>
<path d="M65.4 287.4C66.7 284.9 69.4 278 73 272.7C76.6 267.4 82.2 260.5 87.2 255.8C92.2 251.1 98.8 247.1 103.2 244.3C107.6 241.5 110.5 240 113.8 239C117 238 119.8 237.9 122.7 238.1C125.7 238.2 128.2 238.6 131.5 239.9C134.8 241.2 138.6 244.7 142.2 246C145.8 247.3 149.7 247 152.8 247.9C155.9 248.8 157.9 249.9 160.8 251.4C163.7 252.9 168.5 255.8 170 256.7"/>
<path d="M65.4 287.4C65.3 290.6 64.6 299.6 64.8 306.6C65 313.6 65.1 322.2 66.8 329.6C68.5 337 71.7 345.1 74.8 351C77.9 356.9 81.9 362.1 85.4 365C88.9 367.9 94.2 368 96 368.6"/>
<path d="M96 368.6C100.2 368.3 112.3 368 120.9 366.8C129.5 365.6 139.2 363.3 147.5 361.5C155.8 359.7 164.5 357.4 170.9 356C177.3 354.6 181.6 353.8 186 353C190.4 352.2 193 351.7 197.5 351.5C202 351.3 207.9 351 213.2 352C218.5 353 226.4 356.5 229.1 357.4"/>
<path d="M271.7 324.6C271.4 323.3 271.7 320 269.9 316.6C268.1 313.2 264.6 307.7 261 304.2C257.4 300.7 253.6 298.8 248.6 295.6C243.6 292.4 236.5 288.1 230.9 285C225.3 281.9 219.7 278.9 215 277C210.3 275.1 204.6 274 202.5 273.4"/>
</g>
<g fill="none" stroke="#1a1a1a" stroke-width="1.8" stroke-linecap="round" stroke-linejoin="round">
<path d="M368.6 106.3C369.5 105 372.3 100.2 373.9 98.6C375.5 97 376.5 96.7 378 96.8C379.5 96.9 381.9 96.4 382.8 99.2C383.7 102 383.3 111 383.4 113.4"/>
</g>
<g fill="none" stroke="#4a4a4a" stroke-width="2.0" stroke-linecap="round" stroke-linejoin="round">
<path d="M365.6 112.2L358 116.2"/>
</g>
<g fill="none" stroke="#666" stroke-width="2" stroke-linecap="round" stroke-linejoin="round">
<path d="M435 96.2L459.5 106.8"/>
</g>
<g fill="none" stroke="#666" stroke-width="1.8" stroke-linecap="round" stroke-linejoin="round">
<path d="M467 111C468.2 111.9 472.2 114.3 474.5 116.5C476.8 118.7 479.8 122.8 480.8 124"/>
</g>
<g fill="none" stroke="#555" stroke-width="2.2" stroke-linecap="round" stroke-linejoin="round">
<path d="M473.5 145.8L482.4 141.4"/>
</g>
<g fill="none" stroke="#1a1a1a" stroke-width="1" stroke-linecap="round" stroke-linejoin="round">
<path d="M419.6 73.2L423.3 71.3L427 74.3L426.6 82.8L423.6 84.3L420 80.6Z"/>
<path d="M486.2 96L488.8 94.6L493.7 98.2L492.4 105.7L490.6 107L485.7 103.5Z"/>
<path d="M148.7 372.8L153.2 369.2L160.3 371L159.4 374.6L154 376.3Z"/>
</g>
<g fill="#d8d8d8" stroke="#1a1a1a" stroke-width="1.1" stroke-linecap="round" stroke-linejoin="round">
<path d="M203.5 48.5L208.2 50L211.8 52.3L209.4 52.9L203.9 51.2Z"/>
<path d="M175.6 118.3L182.7 121.8L188 126.3L184 126.7L175.6 122.7Z"/>
<path d="M188.8 166.5L195 171.4L199.3 176.9L195.3 176.5L187.9 170.8Z"/>
<path d="M209.5 211.5L215.2 216.4L219.1 221.7L215.3 221.2L208.5 215.6Z"/>
</g>
<g fill="#5a5a5a" stroke="#1a1a1a" stroke-width="1.2" stroke-linecap="round" stroke-linejoin="round">
<path d="M203.5 54.6L211.4 52.8L211.7 55.1L204.6 56.7Z"/>
<path d="M174.3 128L187.2 126.9L187.2 130.7L175.6 131.6Z"/>
<path d="M185.5 175.7L198.4 177.3L197.6 181L186 179.5Z"/>
<path d="M206.1 220.1L218.2 222.1L217.3 225.6L206.4 223.8Z"/>
</g>
<g fill="none" stroke="#1a1a1a" stroke-width="2.0" stroke-linecap="round" stroke-linejoin="round">
<path d="M208.1 49.5L216.8 47.7"/>
<path d="M182.7 121L197.1 120"/>
<path d="M195.2 170.6L209.5 172.6"/>
<path d="M215.4 215.6L228.9 218"/>
</g>
<g fill="none" stroke="#1a1a1a" stroke-width="1.2" stroke-linecap="round" stroke-linejoin="round">
<path d="M229.1 357.4L259.3 331.7L271.7 324.6"/>
</g>
<g fill="none" stroke="#1a1a1a" stroke-width="1.4" stroke-linecap="round" stroke-linejoin="round">
<path d="M110.6 313.2L125.2 310.8L132.2 322.8L123.5 336L106.5 338.4L100.8 326.8Z"/>
</g>
<g fill="#bbb" stroke="#1a1a1a" stroke-width="1.2" stroke-linecap="round" stroke-linejoin="round">
<path d="M104.8 318.7L110 317.5L111 323.3L105.8 324.8Z"/>
</g>
<g fill="none" stroke="#3a3a3a" stroke-width="3.0" stroke-linecap="round" stroke-linejoin="round">
<path d="M70.8 250.6L77.3 258.3"/>
</g>
<g fill="none" stroke="#8a8a8a" stroke-width="2.2" stroke-linecap="round" stroke-linejoin="round">
<path d="M160 252.2L214.5 273.2"/>
</g>
<g fill="none" stroke="#2a2a2a" stroke-width="2.4" stroke-linecap="round" stroke-linejoin="round">
<path d="M482.8 279.5L475 275"/>
</g>
<g fill="none" stroke="#333" stroke-width="1.6" stroke-linecap="round" stroke-linejoin="round">
<path d="M282.4 223.6C284.3 223.6 289.8 223.6 293.6 223.8C297.4 224 302.2 224.3 305.4 225C308.5 225.7 311.3 227.3 312.5 227.8"/>
</g>
<g fill="none" stroke="#555" stroke-width="2.6" stroke-linecap="round" stroke-linejoin="round">
<path d="M312.5 227.8C315.2 228.9 323.3 231.9 329 234.3C334.7 236.8 343.8 241.1 346.8 242.5"/>
</g>
<g fill="none" stroke="#444" stroke-width="1.4" stroke-linecap="round" stroke-linejoin="round">
<path d="M277 200L278.9 211.8"/>
</g>
<g fill="none" stroke="#333" stroke-width="1.8" stroke-linecap="round" stroke-linejoin="round">
<path d="M347 243.3C350 242.3 359 239.7 365 237.3C371 234.9 380 230.2 383 228.8"/>
</g>
<g fill="#8c8c8c" stroke="#1a1a1a" stroke-width="0.5" stroke-linecap="round" stroke-linejoin="round">
<path d="M462.8 245L462.2 256.6L465.8 281.7L468 299L470.2 298L467.3 274.3L465 246.5Z"/>
</g>
<g fill="none" stroke="#333" stroke-width="1.7" stroke-linecap="round" stroke-linejoin="round">
<path d="M252.3 234.2C252.7 235 253.6 237.1 254.5 239C255.4 240.9 257.4 244.4 258 245.5"/>
</g>
<g fill="none" stroke="#555" stroke-width="2.0" stroke-linecap="round" stroke-linejoin="round">
<path d="M287.5 126.3L305.5 118"/>
</g>
<ellipse cx="534.6" cy="420.4" rx="1.9" ry="3" transform="rotate(-28.6 534.6 420.4)" fill="#777" stroke="#3a3a3a" stroke-width="1"/>
<ellipse cx="323.4" cy="106" rx="2.1" ry="2.5" fill="none" stroke="#1a1a1a" stroke-width="0.9"/>
<ellipse cx="323.4" cy="106" rx="1" ry="1.2" fill="none" stroke="#1a1a1a" stroke-width="0.7"/>
<ellipse cx="377.5" cy="103.3" rx="2.6" ry="3" fill="none" stroke="#1a1a1a" stroke-width="0.8" transform="rotate(25 377.5 103.3)"/>
<ellipse cx="377.5" cy="103.3" rx="1.3" ry="1.6" fill="none" stroke="#1a1a1a" stroke-width="0.8" transform="rotate(25 377.5 103.3)"/>
<ellipse cx="357" cy="116.8" rx="1.7" ry="2.5" fill="#c8c8c8" stroke="#333" stroke-width="0.9" transform="rotate(-28 357 116.8)"/>
<ellipse cx="347" cy="141.7" rx="1.9" ry="1.9" fill="none" stroke="#1a1a1a" stroke-width="0.9"/>
<ellipse cx="347" cy="141.7" rx="0.8" ry="0.8" fill="none" stroke="#1a1a1a" stroke-width="0.7"/>
<ellipse cx="418.2" cy="152.7" rx="2" ry="2.4" fill="none" stroke="#1a1a1a" stroke-width="0.9"/>
<ellipse cx="418.2" cy="152.7" rx="0.9" ry="1.1" fill="none" stroke="#1a1a1a" stroke-width="0.7"/>
<ellipse cx="508" cy="90.3" rx="1.9" ry="3" transform="rotate(-28.4 508 90.3)" fill="#777" stroke="#3a3a3a" stroke-width="1"/>
<ellipse cx="119.6" cy="322" rx="6.2" ry="6.2" fill="none" stroke="#1a1a1a" stroke-width="1.0"/>
<ellipse cx="119.6" cy="322" rx="3.8" ry="3.8" fill="#c4c4c4" stroke="#333" stroke-width="1.2"/>
<ellipse cx="68.6" cy="247.3" rx="4.9" ry="3.7" fill="none" stroke="#333" stroke-width="1.5" transform="rotate(-5 68.6 247.3)"/>
<ellipse cx="68.6" cy="247.2" rx="2.7" ry="1.9" fill="#ccc" stroke="#444" stroke-width="1.0" transform="rotate(-5 68.6 247.2)"/>
<ellipse cx="475" cy="275" rx="1.7" ry="2.8" transform="rotate(-150 475 275)" fill="#777" stroke="#3a3a3a" stroke-width="1"/>
<ellipse cx="477.6" cy="342.4" rx="1" ry="1" fill="none" stroke="#1a1a1a" stroke-width="0.7"/>
<text x="288.7" y="37" font-size="18" text-anchor="middle">1</text>
<text x="361.2" y="37" font-size="18" text-anchor="middle">2</text>
<text x="423.6" y="37" font-size="18" text-anchor="middle">12</text>
<text x="478.8" y="37" font-size="18" text-anchor="middle">5</text>
<text x="504.6" y="37" font-size="18" text-anchor="middle">4</text>
<text x="159.5" y="59.2" font-size="18" text-anchor="middle">11</text>
<text x="587.5" y="171.3" font-size="18" text-anchor="middle">10</text>
<text x="492.4" y="254.5" font-size="18" text-anchor="middle">13</text>
<text x="137.7" y="216.8" font-size="18" text-anchor="middle">7</text>
<text x="78.4" y="224.9" font-size="18" text-anchor="middle">8</text>
<text x="148.4" y="408.3" font-size="18" text-anchor="middle">9</text>
<text x="541.2" y="471" font-size="18" text-anchor="middle">6</text>
<text x="564.2" y="471" font-size="18" text-anchor="middle">3</text>
</svg></body></html>
